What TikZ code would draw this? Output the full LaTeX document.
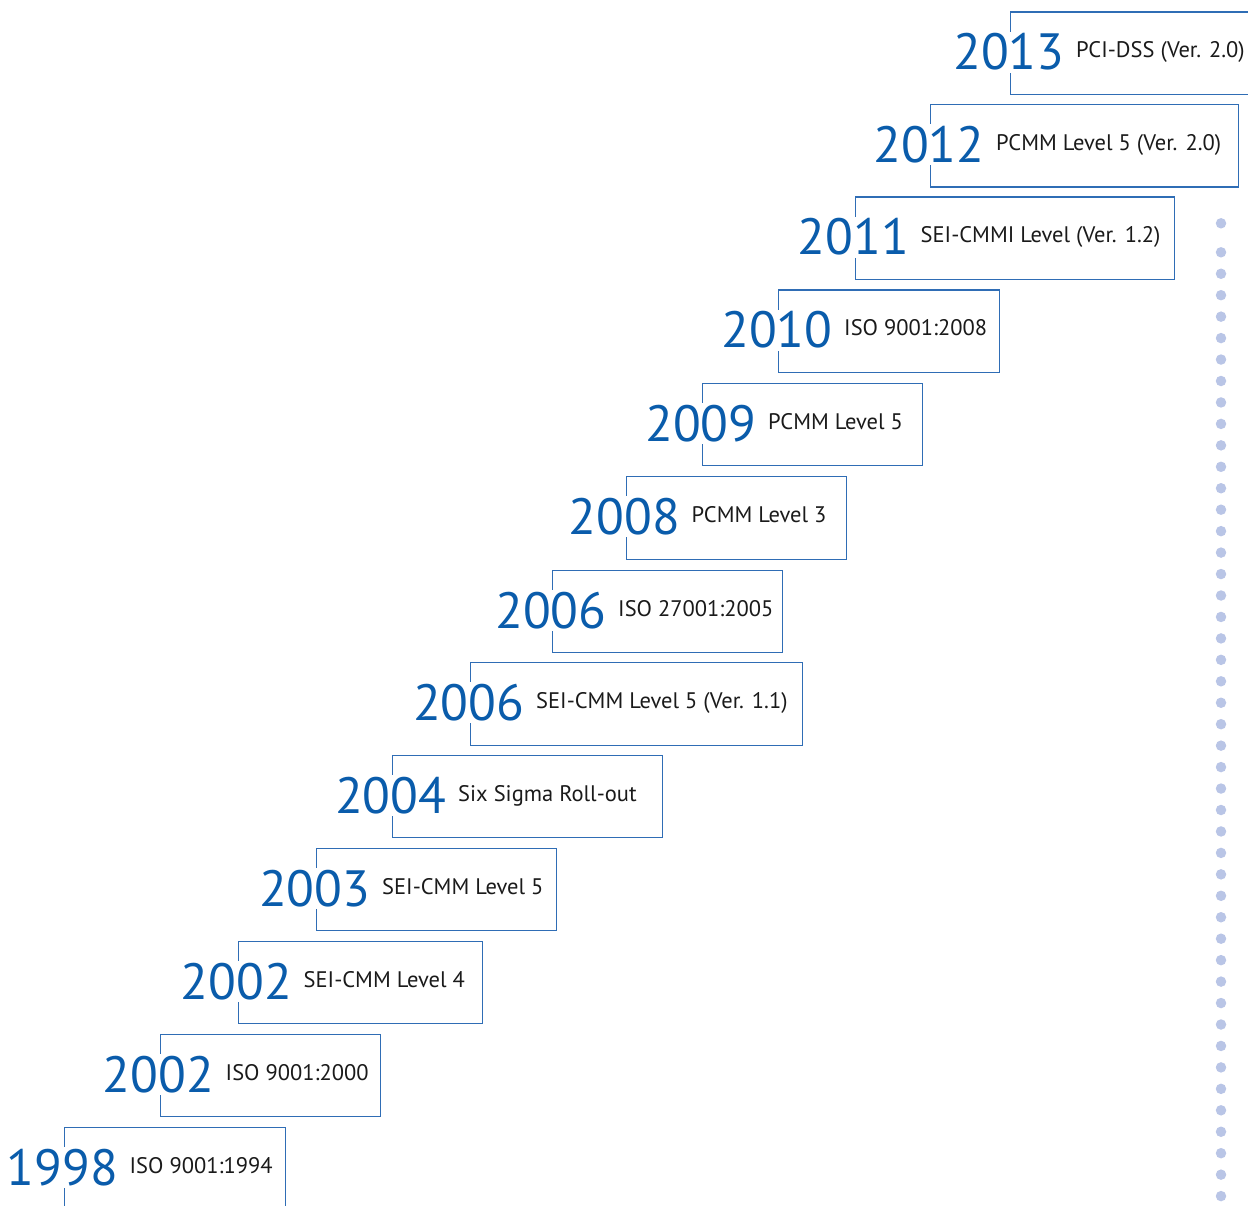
\documentclass[tikz,border=0pt]{standalone}
\usepackage{fontspec}
\setmainfont{PT Sans}
\definecolor{yearblue}{HTML}{0A5CAB}
\definecolor{boxblue}{HTML}{2F6DB5}
\definecolor{dotc}{HTML}{B9C5E6}
\definecolor{lbltxt}{HTML}{1A1A1A}
\tikzset{
  stepbox/.style={draw=boxblue, line width=1.4pt, minimum width=#1, minimum height=82.5pt, inner sep=0pt, anchor=north west},
  yeartxt/.style={font=\fontsize{51}{51}\selectfont, text=yearblue, fill=white, inner xsep=0pt, inner ysep=2pt, anchor=base west},
  lbl/.style={font=\fontsize{22.5}{22.5}\selectfont, text=lbltxt, inner sep=0pt, anchor=base west},
  dot/.style={circle, fill=dotc, minimum size=10.5pt, inner sep=0pt}
}
\begin{document}
\begin{tikzpicture}[x=1pt,y=-1pt]
\useasboundingbox (0,0) rectangle (1248,1206);
\foreach \n/\L/\T/\R/\yr/\txt in {
 1/1010/11.5/1262/2013/{PCI-DSS (Ver. 2.0)},
 2/930/104/1237.5/2012/{PCMM Level 5 (Ver. 2.0)},
 3/854.5/196.5/1173.5/2011/{SEI-CMMI Level (Ver. 1.2)},
 4/778/289.5/998.5/2010/{ISO 9001:2008},
 5/702/382.5/922/2009/{PCMM Level 5},
 6/625.5/476/846/2008/{PCMM Level 3},
 7/552/569.5/781.5/2006/{ISO 27001:2005},
 8/470/662/802/2006/{SEI-CMM Level 5 (Ver. 1.1)},
 9/392/754.5/661.5/2004/{Six Sigma Roll-out},
 10/316/847.5/556/2003/{SEI-CMM Level 5},
 11/237.5/940.5/482/2002/{SEI-CMM Level 4},
 12/159.5/1033.5/380/2002/{ISO 9001:2000},
 13/63.5/1126.5/284.5/1998/{ISO 9001:1994}}{
  \pgfmathsetmacro{\W}{\R-\L}
  \node[stepbox=\W pt] (b\n) at (\L,\T) {};
  \node[yeartxt] (y\n) at ([xshift=-57pt,yshift=-58.5pt]b\n.north west) {\yr};
  \node[lbl] (l\n) at ([xshift=66pt,yshift=-46.5pt]b\n.north west) {\txt};
}
\node[dot] (d0) at (1221,223.3) {};
\foreach \i in {0,...,44}{
  \node[dot] (d\i x) at (1221,252.3+21.45*\i) {};
}
\end{tikzpicture}
\end{document}
